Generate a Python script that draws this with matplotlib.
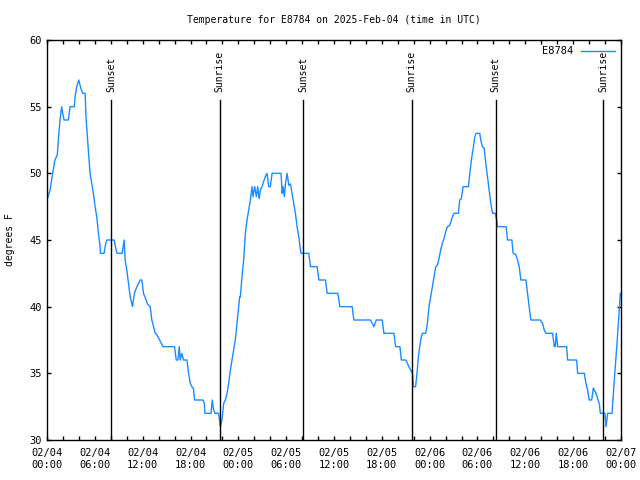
import matplotlib
matplotlib.use("Agg")
import matplotlib.pyplot as plt
from matplotlib.ticker import MultipleLocator
import numpy as np

# hours since 2025-02-04 00:00 UTC
hours = [0.0, 0.38, 0.71, 1.0, 1.3, 1.42, 1.63, 1.84, 1.97, 2.14, 2.68, 2.89, 3.43, 3.52, 3.73, 3.98,
         4.23, 4.48, 4.78, 4.9, 5.19, 5.4, 5.61, 5.82, 6.03, 6.24, 6.45, 6.66, 6.7, 7.16, 7.37, 7.5,
         8.42, 8.67, 8.8, 9.42, 9.68, 9.8, 10.01, 10.22, 10.43, 10.72, 10.97, 11.27, 11.69, 11.9, 12.1,
         12.44, 12.61, 12.94, 13.15, 13.36, 13.57, 13.78, 14.2, 14.54, 16.0, 16.21, 16.42, 16.59, 16.71,
         16.92, 17.13, 17.55, 17.76, 17.97, 18.18, 18.39, 18.51, 19.56, 19.73, 19.81, 20.57, 20.73, 20.9,
         21.07, 21.53, 21.74, 21.95, 22.16, 22.37, 22.58, 22.79, 23.0, 23.2, 23.41, 23.62, 23.83, 24.04,
         24.17, 24.25, 24.46, 24.67, 24.88, 25.09, 25.3, 25.51, 25.72, 25.84, 26.05, 26.26, 26.43, 26.6,
         26.77, 26.98, 27.18, 27.39, 27.6, 27.81, 28.02, 28.23, 29.36, 29.49, 29.61, 29.78, 29.91, 30.12,
         30.33, 30.54, 30.74, 30.95, 31.16, 31.37, 31.58, 31.79, 31.88, 32.84, 33.05, 33.89, 34.1, 34.93,
         35.14, 36.48, 36.73, 38.28, 38.49, 40.59, 40.8, 41.01, 41.3, 42.05, 42.26, 43.52, 43.73, 44.27,
         44.44, 44.99, 45.2, 45.61, 45.85, 45.95, 46.24, 46.45, 46.58, 46.75, 46.96, 47.08, 47.5, 47.71,
         47.92, 48.13, 48.34, 48.55, 48.76, 48.97, 49.17, 49.38, 49.59, 49.8, 50.01, 50.22, 50.43, 50.64,
         50.85, 51.06, 51.6, 51.77, 51.98, 52.19, 52.86, 53.07, 53.28, 53.49, 53.66, 53.82, 54.28, 54.41,
         54.62, 54.83, 55.04, 55.25, 55.46, 55.67, 55.88, 56.21, 56.38, 56.5, 57.59, 57.76, 58.31, 58.47,
         58.81, 59.02, 59.23, 59.44, 60.07, 60.28, 60.48, 60.69, 61.87, 62.16, 62.37, 62.58, 63.42, 63.63,
         63.75, 63.88, 64.05, 65.18, 65.3, 66.43, 66.56, 67.4, 67.6, 67.81, 68.02, 68.32, 68.53, 68.65,
         68.86, 69.07, 69.28, 69.41, 69.99, 70.12, 70.33, 70.87, 71.04, 71.25, 71.5, 71.67, 71.8, 71.92]
temps = [48, 48.75, 50, 51, 51.4, 52.5, 54, 55, 54.5, 54, 54, 55, 55, 55.75, 56.5, 57,
         56.4, 56, 56, 54.1, 51.75, 50, 49.25, 48.5, 47.5, 46.75, 45.5, 44.5, 44, 44, 44.75, 45,
         45, 44.25, 44, 44, 45, 43.5, 42.75, 41.75, 40.75, 40, 41, 41.5, 42, 42, 41,
         40.5, 40.2, 40, 39, 38.5, 38, 37.9, 37.4, 37, 37, 36, 36, 37, 36,
         36.5, 36, 36, 35, 34.25, 34, 33.8, 33, 33, 32.75, 32, 32, 33, 32.25,
         32, 32, 31, 31.5, 32.75, 33, 33.5, 34.25, 35.25, 36, 36.75, 37.5, 38.75, 40,
         40.75, 40.75, 42.25, 43.5, 45.5, 46.5, 47.25, 48, 49, 48.25, 49, 48.25, 49, 48.1,
         48.75, 49, 49.4, 49.75, 50, 49, 49, 50, 50, 48.5, 49, 48.25, 49.2, 50,
         49.1, 49.2, 48.5, 47.75, 47, 46, 45.25, 44.25, 44, 44, 43, 43, 42, 42,
         41, 41, 40, 40, 39, 39, 38.75, 38.5, 39, 39, 38, 38, 37, 37,
         36, 36, 35.75, 35.25, 35, 34, 34, 35.25, 36.25, 37, 37.75, 38, 38, 38.75,
         40, 40.75, 41.5, 42.25, 43, 43.1, 43.6, 44.25, 44.75, 45.1, 45.6, 46, 46.05, 46.3,
         46.75, 47, 47, 48, 48.1, 49, 49, 50.2, 51.2, 52, 52.75, 53, 53, 52.5,
         52, 51.9, 50.75, 49.75, 48.75, 47.75, 47, 47, 46.6, 46, 46, 45, 45, 44,
         43.9, 43.5, 43, 42, 42, 41, 40, 39, 39, 38.75, 38.25, 38, 38, 37,
         37, 38, 37, 37, 36, 36, 35, 35, 34.25, 33.75, 33, 33, 33.9, 33.75,
         33.5, 33.1, 32.7, 32, 32, 31, 32, 32, 33.5, 35.25, 37.25, 38.75, 40, 41]

sun_hours = [8.05, 21.65, 32.15, 45.75, 56.3, 69.75]
sun_labels = ["Sunset", "Sunrise", "Sunset", "Sunrise", "Sunset", "Sunrise"]

xtick_hours = [0, 6, 12, 18, 24, 30, 36, 42, 48, 54, 60, 66, 72]
xtick_labels = ["02/04\n00:00", "02/04\n06:00", "02/04\n12:00", "02/04\n18:00",
                "02/05\n00:00", "02/05\n06:00", "02/05\n12:00", "02/05\n18:00",
                "02/06\n00:00", "02/06\n06:00", "02/06\n12:00", "02/06\n18:00",
                "02/07\n00:00"]
ytick_values = [30, 35, 40, 45, 50, 55, 60]

plt.rcParams['font.family'] = ['DejaVu Sans Mono']
plt.rcParams['font.size'] = 7

fig = plt.figure(figsize=(6.4, 4.8), dpi=100)
ax = fig.add_axes([47/640, 40/480, (621-47)/640, 400/480])

ax.plot(hours, temps, color='#1a8cff', lw=1.0, label='E8784')

for h, lab in zip(sun_hours, sun_labels):
    ax.plot([h, h], [30, 55.5], color='black', lw=1.0)
    ax.text(h, 56.1, lab, rotation=90, ha='center', va='bottom', fontsize=7)

ax.set_xlim(0, 72)
ax.set_ylim(30, 60)
ax.set_xticks(xtick_hours)
ax.set_xticklabels(xtick_labels)
ax.xaxis.set_minor_locator(MultipleLocator(2))
ax.set_yticks(ytick_values)
ax.tick_params(axis='both', which='both', direction='in', top=True, right=True,
               length=3, width=1, labelsize=7.5, pad=4)
ax.tick_params(axis='x', which='major', pad=6)
for s in ax.spines.values():
    s.set_linewidth(1.0)

ax.set_ylabel('degrees F', fontsize=7, labelpad=10)
ax.set_title('Temperature for E8784 on 2025-Feb-04 (time in UTC)', fontsize=7, pad=12)

leg = ax.legend(loc='upper right', frameon=False, fontsize=7.5, handlelength=3.2,
                borderaxespad=0.2, markerfirst=False, handletextpad=0.8)

fig.savefig('out.png', dpi=100)
